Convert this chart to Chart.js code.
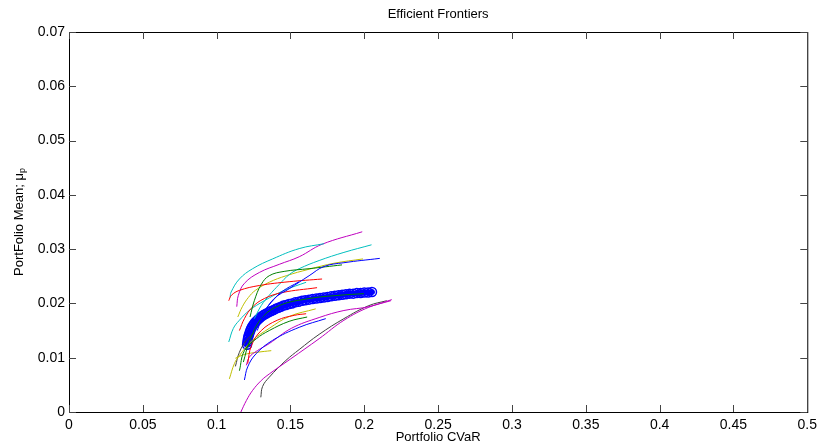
<!DOCTYPE html>
<html lang="en">
<head>
    <meta charset="UTF-8" />
    <title>Efficient Frontiers</title>
    <style>
        html, body { margin: 0; padding: 0; background: #ffffff; }
    </style>
</head>
<body>
    <canvas id="frontierChart" width="822" height="448"></canvas>

    <script src="https://cdn.jsdelivr.net/npm/chart.js@4.4.1/dist/chart.umd.min.js"></script>
    <script>
        // tick values
        const xTickVals = [0, 0.05, 0.1, 0.15, 0.2, 0.25, 0.3, 0.35, 0.4, 0.45, 0.5];
        const yTickVals = [0, 0.01, 0.02, 0.03, 0.04, 0.05, 0.06, 0.07];

        // mean frontier (thick, circle markers): [CVaR, mean]
        const meanFrontier = [
            [0.1206, 0.0124], [0.1208, 0.0129], [0.1211, 0.0134], [0.1214, 0.0138], [0.1218, 0.0142],
            [0.1223, 0.0146], [0.1228, 0.0150], [0.1234, 0.0154], [0.1240, 0.0157], [0.1247, 0.0160],
            [0.1255, 0.0163], [0.1263, 0.0166], [0.1272, 0.0168], [0.1282, 0.0171], [0.1292, 0.0173],
            [0.1303, 0.0176], [0.1315, 0.0178], [0.1327, 0.0180], [0.1340, 0.0182], [0.1355, 0.0184],
            [0.1370, 0.0186], [0.1385, 0.0188], [0.1400, 0.0190], [0.1418, 0.0192], [0.1435, 0.0194],
            [0.1452, 0.0196], [0.1470, 0.0197], [0.1490, 0.0199], [0.1510, 0.0200], [0.1532, 0.0202],
            [0.1555, 0.0203], [0.1578, 0.0205], [0.1600, 0.0206], [0.1625, 0.0207], [0.1650, 0.0208],
            [0.1675, 0.0209], [0.1700, 0.0210], [0.1725, 0.0211], [0.1750, 0.0212], [0.1775, 0.0213],
            [0.1800, 0.0214], [0.1825, 0.0215], [0.1850, 0.0216], [0.1875, 0.0217], [0.1900, 0.0218],
            [0.1925, 0.0218], [0.1950, 0.0219], [0.1975, 0.0219], [0.2000, 0.0220], [0.2026, 0.0220],
            [0.2052, 0.0221]
        ];

        // resampled frontiers
        const b1 = [[0.1275, 0.0150], [0.1323, 0.0183], [0.1390, 0.0209], [0.1491, 0.0227], [0.1626, 0.0251], [0.1727, 0.0268], [0.1862, 0.0275], [0.2105, 0.0283]];
        const b2 = [[0.1188, 0.0059], [0.1210, 0.0083], [0.1266, 0.0107], [0.1379, 0.0132], [0.1559, 0.0156], [0.1739, 0.0172]];
        const b3 = [[0.1221, 0.0141], [0.1302, 0.0178], [0.1370, 0.0202], [0.1444, 0.0222], [0.1559, 0.0240]];
        const g1 = [[0.1226, 0.0175], [0.1255, 0.0205], [0.1302, 0.0235], [0.1356, 0.0251], [0.1457, 0.0259], [0.1626, 0.0264], [0.1849, 0.0271]];
        const g2 = [[0.1181, 0.0092], [0.1221, 0.0129], [0.1302, 0.0172], [0.1424, 0.0196], [0.1626, 0.0209], [0.1829, 0.0215], [0.1997, 0.0218]];
        const g3 = [[0.1154, 0.0076], [0.1188, 0.0113], [0.1269, 0.0135], [0.1356, 0.0150], [0.1491, 0.0167], [0.1613, 0.0175]];
        const r1 = [[0.1082, 0.0205], [0.1100, 0.0215], [0.1154, 0.0224], [0.1289, 0.0233], [0.1491, 0.0240], [0.1714, 0.0245]];
        const r2 = [[0.1154, 0.0150], [0.1188, 0.0172], [0.1241, 0.0193], [0.1323, 0.0209], [0.1444, 0.0220], [0.1680, 0.0229]];
        const r3 = [[0.1210, 0.0089], [0.1235, 0.0122], [0.1302, 0.0150], [0.1410, 0.0169], [0.1525, 0.0178], [0.1606, 0.0181]];
        const c1 = [[0.1091, 0.0211], [0.1098, 0.0221], [0.1154, 0.0245], [0.1244, 0.0264], [0.1379, 0.0282], [0.1559, 0.0301], [0.1727, 0.0310]];
        const c2 = [[0.1255, 0.0172], [0.1302, 0.0196], [0.1356, 0.0215], [0.1424, 0.0235], [0.1491, 0.0253], [0.1559, 0.0264], [0.1694, 0.0279], [0.1862, 0.0294], [0.2049, 0.0308]];
        const c3 = [[0.1082, 0.0129], [0.1113, 0.0154], [0.1154, 0.0169], [0.1221, 0.0187], [0.1323, 0.0205], [0.1457, 0.0224], [0.1606, 0.0239]];
        const m1 = [[0.1136, 0.0194], [0.1147, 0.0215], [0.1188, 0.0237], [0.1289, 0.0257], [0.1424, 0.0272], [0.1559, 0.0286], [0.1714, 0.0309], [0.1986, 0.0332]];
        const m2 = [[0.1164, 0.0000], [0.1201, 0.0021], [0.1244, 0.0040], [0.1302, 0.0058], [0.1356, 0.0070], [0.1502, 0.0098], [0.1694, 0.0135], [0.1862, 0.0169], [0.2031, 0.0193], [0.2180, 0.0205]];
        const m3 = [[0.1201, 0.0086], [0.1221, 0.0101], [0.1275, 0.0113], [0.1356, 0.0126], [0.1505, 0.0154], [0.1694, 0.0174], [0.1862, 0.0187], [0.2031, 0.0194], [0.2186, 0.0207]];
        const y1 = [[0.1143, 0.0175], [0.1174, 0.0194], [0.1215, 0.0211], [0.1262, 0.0224], [0.1356, 0.0239], [0.1471, 0.0251], [0.1626, 0.0263], [0.1795, 0.0274], [0.1991, 0.0282]];
        const y2 = [[0.1086, 0.0061], [0.1120, 0.0089], [0.1154, 0.0104], [0.1242, 0.0132], [0.1356, 0.0154], [0.1491, 0.0176], [0.1671, 0.0190]];
        const y3 = [[0.1127, 0.0099], [0.1188, 0.0106], [0.1275, 0.0110], [0.1370, 0.0113]];
        const k1 = [[0.1299, 0.0027], [0.1311, 0.0047], [0.1356, 0.0064], [0.1469, 0.0095], [0.1559, 0.0115], [0.1694, 0.0143], [0.1862, 0.0172], [0.2031, 0.0196], [0.2152, 0.0205]];
        const k2 = [[0.1127, 0.0084], [0.1154, 0.0110], [0.1201, 0.0132], [0.1255, 0.0146]];

        // matlab line colours
        const col = {
            b: '#0000ff', g: '#008000', r: '#ff0000', c: '#00bfbf',
            m: '#bf00bf', y: '#bfbf00', k: '#404040'
        };
        const thinLines = [
            [b1, col.b], [b2, col.b], [b3, col.b],
            [g1, col.g], [g2, col.g], [g3, col.g],
            [r1, col.r], [r2, col.r], [r3, col.r],
            [c1, col.c], [c2, col.c], [c3, col.c],
            [m1, col.m], [m2, col.m], [m3, col.m],
            [y1, col.y], [y2, col.y], [y3, col.y],
            [k1, col.k], [k2, col.k]
        ];

        const toXY = arr => arr.map(p => ({ x: p[0], y: p[1] }));

        const datasets = thinLines.map(([pts, c]) => ({
            data: toXY(pts),
            showLine: true,
            borderColor: c,
            borderWidth: 1,
            pointRadius: 0,
            tension: 0.4,
            order: 0
        }));
        datasets.push({
            data: toXY(meanFrontier),
            showLine: true,
            borderColor: '#0000ff',
            borderWidth: 6,
            borderCapStyle: 'round',
            pointRadius: 4.5,
            pointBorderWidth: 1.5,
            pointBorderColor: '#0000ff',
            pointBackgroundColor: 'rgba(0,0,0,0)',
            tension: 0.4,
            order: 1
        });

        const FONT = "'Liberation Sans', Arial, Helvetica, sans-serif";

        // matlab style box, inward ticks and labels
        const matlabFrame = {
            id: 'matlabFrame',
            afterDraw(chart) {
                const { ctx, chartArea: a, scales } = chart;
                ctx.save();
                ctx.strokeStyle = '#000000';
                ctx.lineWidth = 1;
                ctx.strokeRect(a.left + 0.5, a.top + 0.5, a.right - a.left, a.bottom - a.top);

                ctx.strokeStyle = '#444444';
                ctx.beginPath();
                xTickVals.forEach(v => {
                    const px = Math.round(scales.x.getPixelForValue(v)) + 0.5;
                    ctx.moveTo(px, a.bottom); ctx.lineTo(px, a.bottom - 7);
                    ctx.moveTo(px, a.top); ctx.lineTo(px, a.top + 7);
                });
                yTickVals.forEach(v => {
                    const py = Math.round(scales.y.getPixelForValue(v)) + 0.5;
                    ctx.moveTo(a.left, py); ctx.lineTo(a.left + 7, py);
                    ctx.moveTo(a.right, py); ctx.lineTo(a.right - 7, py);
                });
                ctx.stroke();

                ctx.fillStyle = '#000000';
                ctx.textAlign = 'center';
                ctx.textBaseline = 'middle';
                ctx.font = '13px ' + FONT;
                const cx = (a.left + a.right) / 2;
                ctx.fillText('Efficient Frontiers', cx, 14);
                ctx.fillText('Portfolio CVaR', cx, 437);

                // y title with subscript p
                ctx.translate(19, (a.top + a.bottom) / 2);
                ctx.rotate(-Math.PI / 2);
                const main = 'PortFolio Mean; \u03bc';
                ctx.font = '13px ' + FONT;
                const w1 = ctx.measureText(main).width;
                ctx.font = '9px ' + FONT;
                const w2 = ctx.measureText('p').width;
                const start = -(w1 + w2) / 2;
                ctx.textAlign = 'left';
                ctx.font = '13px ' + FONT;
                ctx.fillText(main, start, 0);
                ctx.font = '9px ' + FONT;
                ctx.fillText('p', start + w1, 4);
                ctx.restore();
            }
        };

        const fmt = v => String(Number(v.toFixed(2)));

        new Chart(document.getElementById('frontierChart').getContext('2d'), {
            type: 'scatter',
            data: { datasets },
            options: {
                responsive: false,
                animation: false,
                devicePixelRatio: 1,
                layout: { padding: { top: 32, right: 12, left: 0, bottom: 0 } },
                plugins: {
                    legend: { display: false },
                    tooltip: { enabled: false }
                },
                scales: {
                    x: {
                        type: 'linear',
                        min: 0,
                        max: 0.5,
                        afterBuildTicks: s => { s.ticks = xTickVals.map(v => ({ value: v })); },
                        afterFit: s => { s.height = 36; },
                        grid: { display: false, drawTicks: false },
                        border: { display: false },
                        ticks: {
                            padding: 5,
                            maxRotation: 0,
                            color: '#000000',
                            font: { size: 14, family: FONT },
                            callback: v => fmt(v)
                        }
                    },
                    y: {
                        type: 'linear',
                        min: 0,
                        max: 0.07,
                        afterBuildTicks: s => { s.ticks = yTickVals.map(v => ({ value: v })); },
                        afterFit: s => { s.width = 69; },
                        grid: { display: false, drawTicks: false },
                        border: { display: false },
                        ticks: {
                            padding: 4,
                            color: '#000000',
                            font: { size: 14, family: FONT },
                            callback: v => fmt(v)
                        }
                    }
                }
            },
            plugins: [matlabFrame]
        });
    </script>
</body>
</html>
